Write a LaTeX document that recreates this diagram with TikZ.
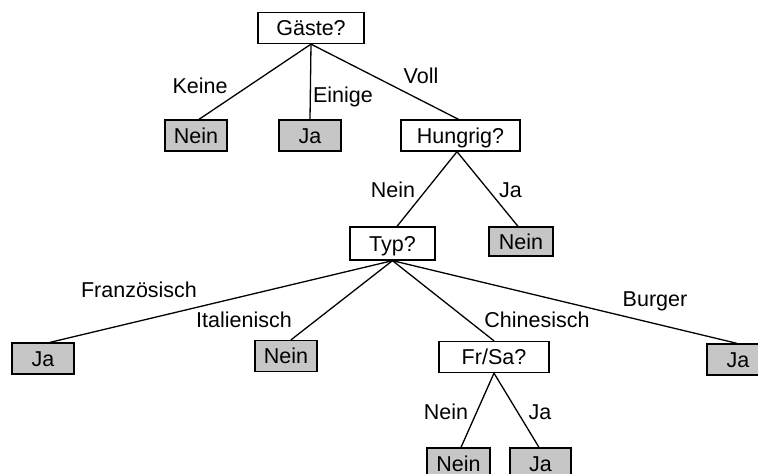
\documentclass[tikz,border=0pt]{standalone}
\usepackage{fontspec}
\setmainfont{Liberation Sans}
\begin{document}
\begin{tikzpicture}[x=1pt,y=-1pt,
  every node/.style={font=\fontsize{21.5}{25}\selectfont},
  box/.style={draw=black, line width=1.3pt, inner sep=0pt, minimum height=31pt,
    text height=15.4pt, text depth=0pt, anchor=center},
  qbox/.style={box, fill=white},
  leaf/.style={box, fill=gray!45, minimum width=62pt},
  edge/.style={line width=1.3pt},
  lab/.style={anchor=base, inner sep=0pt}]
\useasboundingbox[fill=white] (0,0) rectangle (758,474);

% question nodes
\node[qbox, minimum width=106pt] (gaeste) at (311,28) {Gäste?};
\node[qbox, minimum width=119pt] (hungrig) at (460.5,135.5) {Hungrig?};
\node[qbox, minimum width=85pt, minimum height=33pt] (typ) at (392.5,243.5) {Typ?};
\node[qbox, minimum width=110pt] (frsa) at (494,357) {Fr/Sa?};

% leaves
\node[leaf] (n1) at (196,135.5) {Nein};
\node[leaf] (j1) at (310,135.5) {Ja};
\node[leaf, minimum width=64pt, minimum height=29pt] (n2) at (521,241.5) {Nein};
\node[leaf] (j2) at (43,358.5) {Ja};
\node[leaf] (n3) at (286,356) {Nein};
\node[leaf] (j3) at (738,359.5) {Ja};
\node[leaf, minimum width=63pt] (n4) at (458.5,463.5) {Nein};
\node[leaf, minimum width=61pt] (j4) at (540.5,463.5) {Ja};

% connectors
\draw[edge] (gaeste.south) -- ([xshift=3pt]n1.north);
\draw[edge] (gaeste.south) -- (j1.north);
\draw[edge] (gaeste.south) -- ([xshift=-2pt]hungrig.north);
\draw[edge] ([xshift=-3.5pt]hungrig.south) -- ([xshift=4.5pt]typ.north);
\draw[edge] ([xshift=-3.5pt]hungrig.south) -- ([xshift=-3pt]n2.north);
\draw[edge] (typ.south) -- ([xshift=7pt]j2.north);
\draw[edge] (typ.south) -- ([xshift=5pt]n3.north);
\draw[edge] (typ.south) -- (frsa.north);
\draw[edge] (typ.south) -- ([xshift=-1pt]j3.north);
\draw[edge] (frsa.south) -- ([xshift=2.5pt]n4.north);
\draw[edge] (frsa.south) -- ([xshift=-1.5pt]j4.north);

% edge labels
\node[lab] (lkeine) at (200,93) {Keine};
\node[lab] (leinige) at (343,102) {Einige};
\node[lab] (lvoll) at (421,83) {Voll};
\node[lab] (lhn) at (393,197) {Nein};
\node[lab] (lhj) at (510.5,197) {Ja};
\node[lab] (lfr) at (139,297) {Französisch};
\node[lab] (lit) at (244,327) {Italienisch};
\node[lab] (lch) at (537,327) {Chinesisch};
\node[lab] (lbu) at (655,306) {Burger};
\node[lab] (lfn) at (446,419) {Nein};
\node[lab] (lfj) at (540,419) {Ja};
\end{tikzpicture}
\end{document}
